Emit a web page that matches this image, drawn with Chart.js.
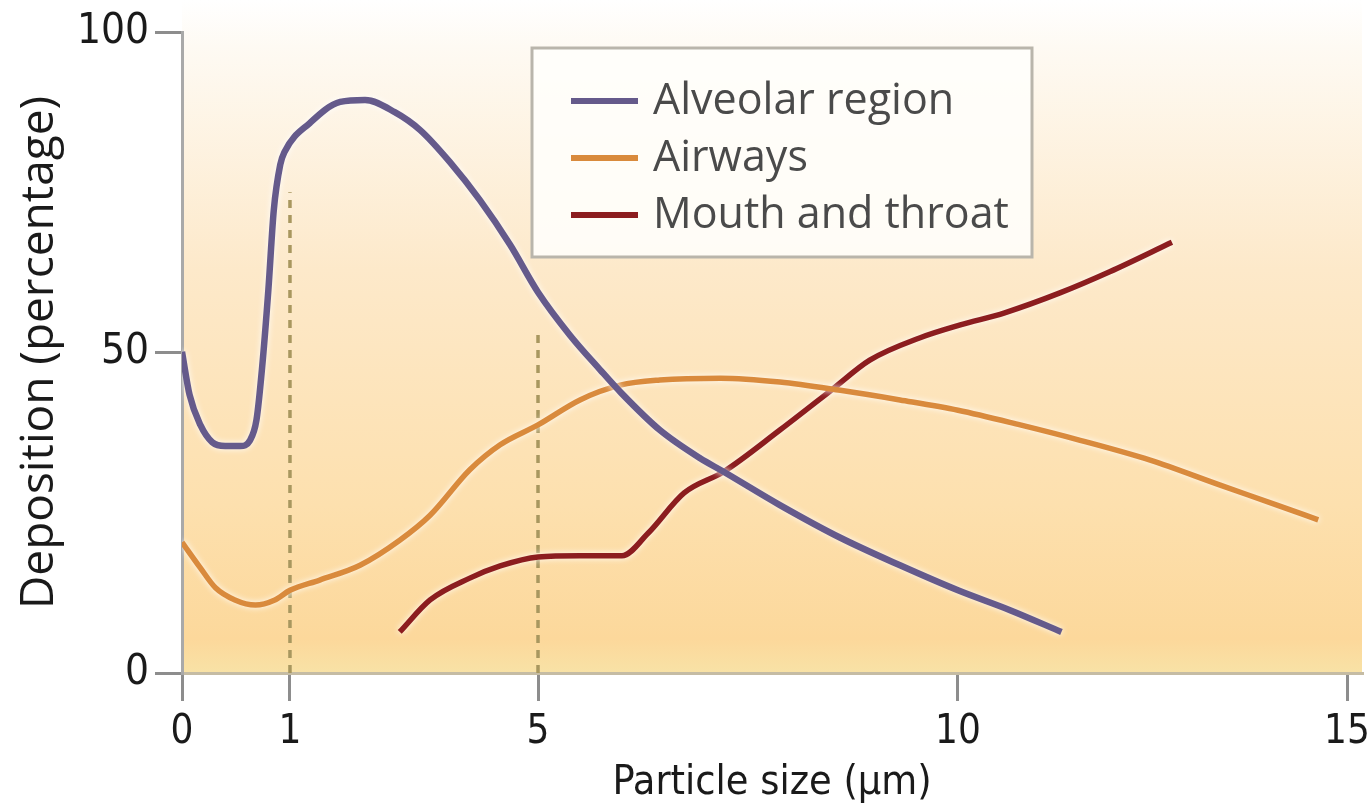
<!DOCTYPE html>
<html>
<head>
<meta charset="utf-8">
<script src="https://cdn.jsdelivr.net/npm/chart.js@4/dist/chart.umd.min.js"></script>
<style>
html,body{margin:0;padding:0;background:#ffffff;}
#wrap{width:1367px;height:810px;position:relative;}
</style>
</head>
<body>
<div id="wrap"><canvas id="c" width="1367" height="810"></canvas></div>
<script>
// ---- Data ----
const seriesNames = ['Alveolar region', 'Airways', 'Mouth and throat'];

const alveolarX = [0,0.07,0.17,0.28,0.40,0.54,0.63,0.69,0.74,0.80,0.85,0.91,0.95,1.32,1.81,2.21,2.69,3.10,3.58,4.06,4.55,5.0,5.38,5.74,5.99,6.45,6.93,7.21,7.88,8.6,9.31,10,10.67,11.33];
const alveolarY = [50.1,43.4,38.7,36.0,35.4,35.4,36.3,39.5,47.3,59.8,72.2,79.3,81.3,85.8,89.1,89.4,87.5,84.7,79.7,73.8,66.8,59.4,52.7,47.3,43.7,37.9,33.5,31.4,26.2,21.1,16.8,12.9,9.8,6.4];

const airwaysX = [0,0.17,0.31,0.49,0.68,0.86,1,1.48,2.13,2.77,3.26,3.90,4.39,5,5.5,5.98,6.45,7.17,7.88,8.6,9.31,10,10.8,11.57,12.47,13.37,14.1,14.63];
const airwaysY = [20.4,16.4,13.3,11.4,10.6,11.4,12.9,14.5,16.8,20.7,24.6,31.7,35.6,38.7,42.6,44.9,45.7,46.0,45.4,44.1,42.6,41.0,38.7,36.3,33.2,29.3,26.2,23.9];

const mouthX = [2.77,3.26,3.90,4.39,5,5.5,6.0,6.31,6.74,7.21,7.88,8.49,8.95,9.55,10.03,10.6,11.31,11.95,12.75];
const mouthY = [6.4,11.4,14.8,16.7,18.1,18.3,18.3,21.8,28.1,31.4,37.9,44.1,48.8,52.3,54.3,56.2,59.3,62.6,67.2];

const dropX = [1, 5];
const dropTop = [75, 53];

const xTicks = [0, 1, 5, 10, 15];
const yTicks = [0, 50, 100];

// ---- Non-uniform x axis of the original figure (value -> fraction of axis width) ----
const xAxisStops = [[0,0],[1,0.0915],[5,0.3017],[10,0.6576],[15,0.9873],[15.19,1]];

function interp(v, stops, a, b) {
  if (v <= stops[0][a]) return stops[0][b];
  for (let i = 1; i < stops.length; i++) {
    if (v <= stops[i][a]) {
      const s0 = stops[i-1], s1 = stops[i];
      return s0[b] + (v - s0[a]) / (s1[a] - s0[a]) * (s1[b] - s0[b]);
    }
  }
  const n = stops.length;
  const s0 = stops[n-2], s1 = stops[n-1];
  return s0[b] + (v - s0[a]) / (s1[a] - s0[a]) * (s1[b] - s0[b]);
}

class PiecewiseScale extends Chart.LinearScale {
  buildTicks() { return xTicks.map(v => ({ value: v })); }
  getPixelForValue(value) { return this.getPixelForDecimal(interp(value, xAxisStops, 0, 1)); }
  getValueForPixel(pixel) { return interp(this.getDecimalForPixel(pixel), xAxisStops, 1, 0); }
}
PiecewiseScale.id = 'piecewise';
PiecewiseScale.defaults = Chart.LinearScale.defaults;
Chart.register(PiecewiseScale);

const toPts = (xs, ys) => xs.map((x, i) => ({ x: x, y: ys[i] }));

const colors = ['#655a8b', '#d98a3c', '#8c1d1f'];
const narrow = "'Liberation Sans Narrow', 'DejaVu Sans Condensed', 'Roboto Condensed', sans-serif";
const humanist = "'Open Sans', Lato, sans-serif";

const datasets = [
  { label: seriesNames[0], data: toPts(alveolarX, alveolarY), borderColor: colors[0], borderWidth: 6.5 },
  { label: seriesNames[1], data: toPts(airwaysX, airwaysY), borderColor: colors[1], borderWidth: 5.5 },
  { label: seriesNames[2], data: toPts(mouthX, mouthY), borderColor: colors[2], borderWidth: 5.5 }
].map(d => Object.assign(d, { fill: false, pointRadius: 0, cubicInterpolationMode: 'monotone', halo: true, order: 1 }));

dropX.forEach((x, i) => {
  datasets.push({
    label: 'drop' + i,
    data: [{ x: x, y: 0 }, { x: x, y: dropTop[i] }],
    borderColor: '#a8975f', borderWidth: 3.5, borderDash: [8, 7],
    pointRadius: 0, fill: false, order: 5
  });
});

const bgPlugin = {
  id: 'bg',
  beforeDraw(chart) {
    const { ctx, chartArea } = chart;
    const g = ctx.createLinearGradient(0, 0, 0, chartArea.bottom);
    g.addColorStop(0, '#ffffff');
    g.addColorStop(0.07, '#fefaf3');
    g.addColorStop(0.4, '#fde9ca');
    g.addColorStop(0.75, '#fde0ae');
    g.addColorStop(0.95, '#fcd89b');
    g.addColorStop(1, '#f8e2a6');
    ctx.save();
    ctx.fillStyle = g;
    ctx.fillRect(chartArea.left, 0, chartArea.right - chartArea.left, chartArea.bottom);
    ctx.restore();
  }
};

const haloPlugin = {
  id: 'halo',
  beforeDatasetDraw(chart, args) {
    const ds = chart.data.datasets[args.index];
    chart.ctx.save();
    if (ds.halo) {
      chart.ctx.shadowColor = 'rgba(255,255,255,0.95)';
      chart.ctx.shadowBlur = 6;
    }
  },
  afterDatasetDraw(chart) { chart.ctx.restore(); }
};

const legendPlugin = {
  id: 'boxLegend',
  afterDraw(chart) {
    const ctx = chart.ctx;
    const bx = 532, by = 48, bw = 500, bh = 209;
    ctx.save();
    ctx.fillStyle = 'rgba(255,254,251,0.9)';
    ctx.fillRect(bx, by, bw, bh);
    ctx.strokeStyle = '#b9b5ab';
    ctx.lineWidth = 3;
    ctx.strokeRect(bx, by, bw, bh);
    ctx.font = "43px " + humanist;
    ctx.textBaseline = 'middle';
    ctx.textAlign = 'left';
    for (let i = 0; i < 3; i++) {
      const ds = chart.data.datasets[i];
      const y = 101 + i * 57;
      ctx.strokeStyle = ds.borderColor;
      ctx.lineWidth = 6;
      ctx.beginPath();
      ctx.moveTo(571, y);
      ctx.lineTo(638, y);
      ctx.stroke();
      ctx.fillStyle = '#4a4a4a';
      ctx.fillText(ds.label, 653, y + 1);
    }
    ctx.restore();
  }
};

new Chart(document.getElementById('c'), {
  type: 'line',
  data: { datasets: datasets },
  plugins: [bgPlugin, haloPlugin, legendPlugin],
  options: {
    responsive: false,
    animation: false,
    layout: { padding: { top: 32, right: 5, left: 0, bottom: 0 } },
    plugins: { legend: { display: false }, tooltip: { enabled: false } },
    scales: {
      x: {
        type: 'piecewise',
        min: 0, max: 15.19,
        border: { display: true, color: '#c5bca4', width: 3 },
        grid: { drawOnChartArea: false, drawTicks: true, tickLength: 28, color: '#8d8d8d', lineWidth: 3 },
        ticks: { autoSkip: false, maxRotation: 0, padding: 8, color: '#1a1a1a', font: { family: narrow, size: 40 } },
        title: { display: true, text: 'Particle size (µm)', color: '#1a1a1a', font: { family: narrow, size: 41 }, padding: { top: 0, bottom: 2 } },
        afterFit(scale) { scale.height = 137; scale.paddingRight = 0; scale.paddingLeft = 0; }
      },
      y: {
        type: 'linear',
        min: 0, max: 100,
        afterBuildTicks(scale) { scale.ticks = yTicks.map(v => ({ value: v })); },
        border: { display: true, color: '#a9a9a9', width: 3 },
        grid: { drawOnChartArea: false, drawTicks: true, tickLength: 27, color: '#8d8d8d', lineWidth: 3 },
        ticks: { padding: 6, color: '#1a1a1a', font: { family: narrow, size: 42 } },
        title: { display: true, text: 'Deposition (percentage)', color: '#1a1a1a', font: { family: humanist, size: 46 }, padding: { top: 12, bottom: 0 } },
        afterFit(scale) { scale.width = 182; }
      }
    }
  }
});
</script>
</body>
</html>
